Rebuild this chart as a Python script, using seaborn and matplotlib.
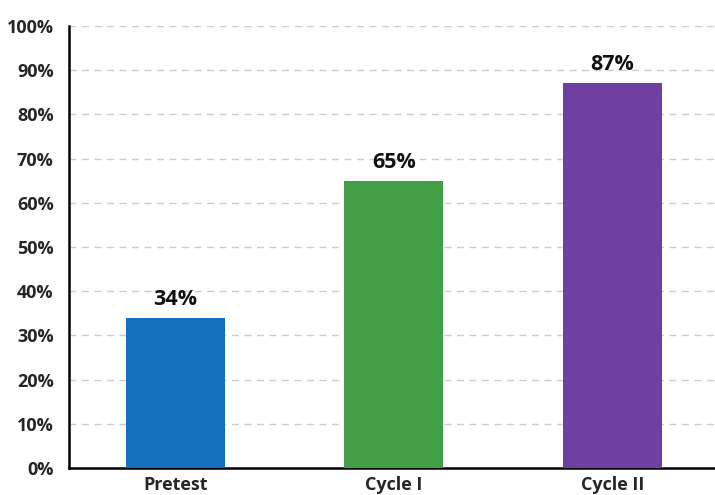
import seaborn as sns
import matplotlib.pyplot as plt
import pandas as pd

# bar data
stages = ['Pretest', 'Cycle I', 'Cycle II']
scores = [34, 65, 87]
colors = ['#1670c0', '#43a047', '#7040a0']

df = pd.DataFrame({'stage': stages, 'score': scores})

sns.set_style('white')
plt.rcParams['font.family'] = ['Open Sans', 'DejaVu Sans']

fig = plt.figure(figsize=(7.15, 4.95), dpi=100)
ax = fig.add_axes([0.0965, 0.0545, 0.9035, 0.893])

sns.barplot(data=df, x='stage', y='score', hue='stage', palette=colors,
            width=0.453, saturation=1, legend=False, ax=ax, zorder=3,
            linewidth=0)

ax.set_ylim(0, 100)
ax.set_xlim(-0.487, 2.469)
ax.set_yticks(range(0, 101, 10))
ax.set_yticklabels([f'{v}%' for v in range(0, 101, 10)],
                   fontsize=13, fontweight='bold')
ax.set_xticks(range(len(stages)))
ax.set_xticklabels(stages, fontsize=13, fontweight='bold')
ax.tick_params(axis='y', length=0, pad=11)
ax.tick_params(axis='x', length=0, pad=6)
ax.set_xlabel('')
ax.set_ylabel('')

# dashed gridlines
ax.yaxis.grid(True, color='#cccccc', linestyle=(0, (5, 4)), linewidth=1)
ax.set_axisbelow(True)

for side in ['top', 'right']:
    ax.spines[side].set_visible(False)
for side in ['left', 'bottom']:
    ax.spines[side].set_color('black')
    ax.spines[side].set_linewidth(1.8)

# value labels
for i, v in enumerate(scores):
    ax.text(i, v + 1.8, f'{v}%', ha='center', va='bottom',
            fontsize=15.5, fontweight='bold', color='#111111')

fig.savefig('out.png', dpi=100)
